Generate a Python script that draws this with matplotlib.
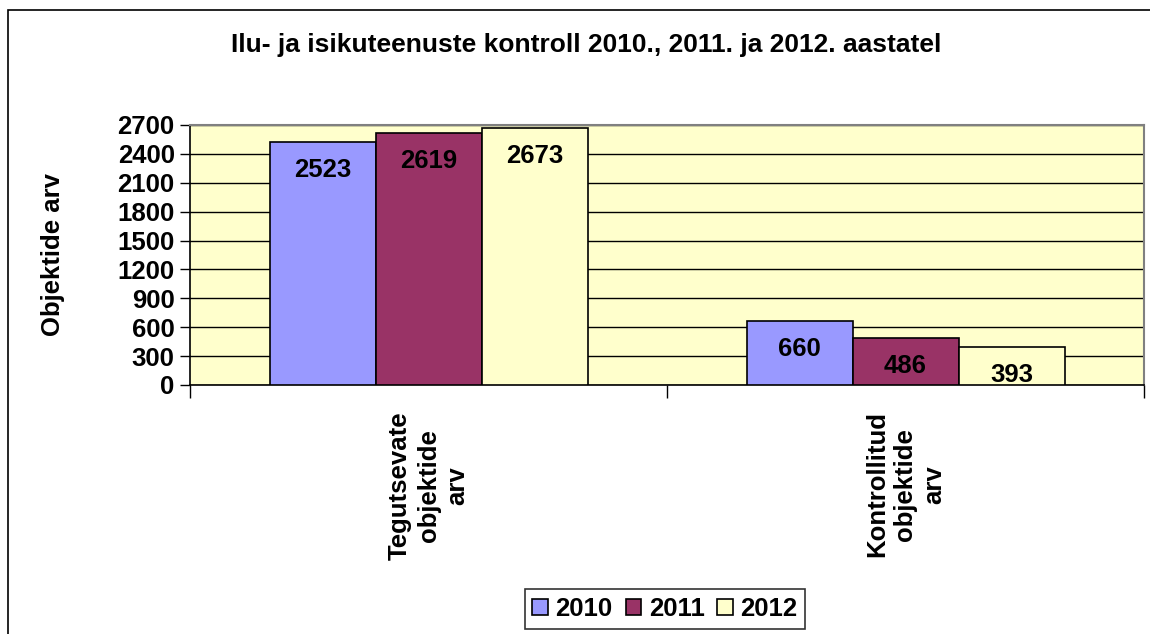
import matplotlib
matplotlib.use("Agg")
import matplotlib.pyplot as plt
import numpy as np
from matplotlib.patches import Rectangle

categories = ["Tegutsevate\nobjektide\narv", "Kontrollitud\nobjektide\narv"]
years = ["2010", "2011", "2012"]
values = {
    "2010": [2523, 660],
    "2011": [2619, 486],
    "2012": [2673, 393],
}
colors = ["#9999FF", "#993366", "#FFFFCC"]
yticks = [0, 300, 600, 900, 1200, 1500, 1800, 2100, 2400, 2700]
title = "Ilu- ja isikuteenuste kontroll 2010., 2011. ja 2012. aastatel"
ylabel = "Objektide arv"

W, H = 1150, 634
dpi = 100
plt.rcParams['font.family'] = ['Liberation Sans', 'DejaVu Sans']
plt.rcParams['font.weight'] = 'bold'
fig = plt.figure(figsize=(W / dpi, H / dpi), dpi=dpi)
fig.patch.set_facecolor('white')

# outer border
fig.add_artist(Rectangle((8 / W, 0 - 0.01), 1.1, (H - 10) / H + 0.01, transform=fig.transFigure,
                         fill=False, edgecolor='black', linewidth=1.2))

ax = fig.add_axes([190 / W, 1 - 385 / H, (1144 - 190) / W, (385 - 125) / H])
ax.set_facecolor('#FFFFCC')

n = len(years)
bw = 1.0 / (n + 1.5)
x = np.arange(len(categories))
fs = 18.5
for i, (y, c) in enumerate(zip(years, colors)):
    pos = x + (i - (n - 1) / 2) * bw
    bars = ax.bar(pos, values[y], width=bw, color=c, edgecolor='black', linewidth=1.2,
                  label=y, zorder=3)
    for b, v in zip(bars, values[y]):
        ax.annotate(str(v), (b.get_x() + b.get_width() / 2, v), xytext=(0, -28),
                    textcoords='offset pixels', ha='center', va='center',
                    fontsize=fs, fontweight='bold', zorder=4)

ax.set_xlim(-0.5, len(categories) - 0.5)
ax.set_ylim(0, 2700)
ax.set_yticks(yticks)
ax.set_yticklabels([str(t) for t in yticks], fontsize=fs, fontweight='bold')
ax.yaxis.grid(True, color='black', linewidth=1.0, zorder=1)
ax.set_axisbelow(True)
ax.tick_params(axis='y', direction='out', length=7, width=1, pad=4)

ax.set_xticks(x)
ax.set_xticklabels(categories, rotation=90, fontsize=fs, fontweight='bold',
                   ha='center', va='top', multialignment='center', linespacing=1.25)
ax.tick_params(axis='x', length=0, pad=19)
# category boundary ticks
ax.set_xticks([-0.5, 0.5, 1.5], minor=True)
ax.tick_params(axis='x', which='minor', direction='out', length=9, width=1)

for s in ['left', 'bottom']:
    ax.spines[s].set_color('black')
    ax.spines[s].set_linewidth(1.2)
for s in ['top', 'right']:
    ax.spines[s].set_color('#808080')
    ax.spines[s].set_linewidth(1.5)

ax.set_ylabel(ylabel, fontsize=fs, fontweight='bold', labelpad=38)
fig.text(586 / W, 1 - 45 / H, title, ha='center', va='center', fontsize=fs + 0.5, fontweight='bold')

leg = fig.legend(loc='center', bbox_to_anchor=(665 / W, 1 - 609 / H), ncol=3,
                 prop={'size': fs, 'weight': 'bold'}, frameon=True, fancybox=False,
                 edgecolor='black', handlelength=0.6, handleheight=0.6, handletextpad=0.3,
                 columnspacing=0.5, borderpad=0.3, borderaxespad=0)
leg.get_frame().set_linewidth(1.2)

fig.savefig('out.png', dpi=dpi)
